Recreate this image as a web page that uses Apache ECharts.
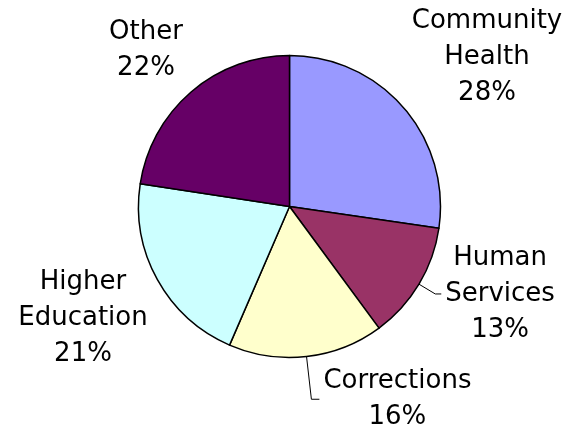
<!DOCTYPE html>
<html>
<head>
  <meta charset="utf-8">
  <title>Funding share</title>
  <script src="https://cdn.jsdelivr.net/npm/echarts@6/dist/echarts.min.js"></script>
  <style>
    html, body { margin: 0; padding: 0; background: #fff; }
    #main { width: 564px; height: 432px; }
  </style>
</head>
<body>
  <div id="main"></div>
  <script>
    // data read off the picture (slice sizes measured from the angles,
    // percent text as printed on the chart)
    var categories = ['Community\nHealth', 'Human\nServices', 'Corrections', 'Higher\nEducation', 'Other'];
    var shares = [27.3, 12.6, 16.6, 20.9, 22.6];
    var percentText = ['28%', '13%', '16%', '21%', '22%'];
    var colors = ['#9999ff', '#993366', '#ffffcc', '#ccffff', '#660066'];

    // label blocks without a leader line are placed by hand (block centre);
    // the other two follow the pie's own outside layout
    var labelSpots = [[487, 57], null, null, [83, 318], [146, 50]];
    var lineLen = [[0, 0], [19, 6], [43, 8], [0, 0], [0, 0]];

    var myChart = echarts.init(document.getElementById('main'), null, { renderer: 'canvas' });

    function labelText(i) {
      return categories[i].split('\n').concat(percentText[i]).map(function (s) {
        return '{a|' + s + '}';
      }).join('\n');
    }

    var option = {
      animation: false,
      series: [{
        type: 'pie',
        center: [289.5, 206.5],
        radius: 151,
        startAngle: 90,
        clockwise: true,
        avoidLabelOverlap: false,
        itemStyle: { borderColor: '#000', borderWidth: 1.5 },
        emphasis: { disabled: true },
        label: {
          show: true,
          position: 'outside',
          overflow: 'none',
          distanceToLabelLine: 4,
          formatter: function (p) { return labelText(p.dataIndex); },
          rich: {
            a: {
              color: '#000',
              fontFamily: '"DejaVu Sans", Verdana, sans-serif',
              fontSize: 26,
              lineHeight: 36,
              align: 'center'
            }
          }
        },
        labelLine: { show: true, lineStyle: { color: '#000', width: 1 } },
        labelLayout: function (p) {
          var s = labelSpots[p.dataIndex];
          if (!s) return {};
          return { x: s[0], y: s[1], align: 'center', verticalAlign: 'middle' };
        },
        data: categories.map(function (c, i) {
          return {
            name: c,
            value: shares[i],
            itemStyle: { color: colors[i] },
            labelLine: {
              show: !labelSpots[i],
              length: lineLen[i][0],
              length2: lineLen[i][1]
            }
          };
        })
      }]
    };

    myChart.setOption(option);
  </script>
</body>
</html>
